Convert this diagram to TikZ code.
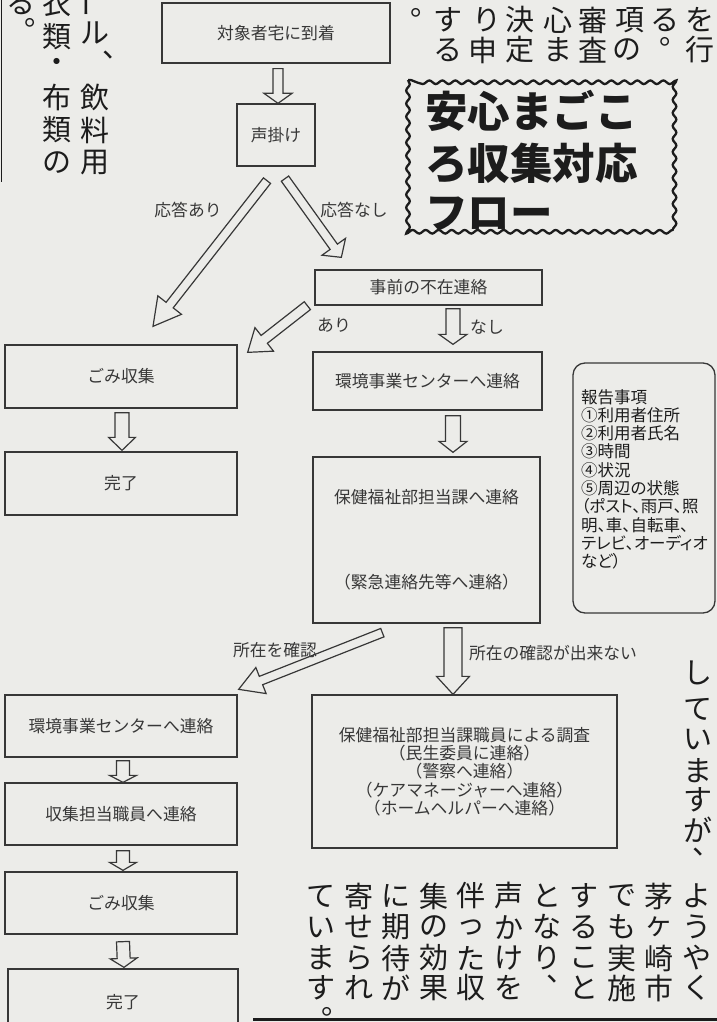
\documentclass[tikz,border=0pt]{standalone}
\usepackage{fontspec}
\newfontfamily\jp{Noto Sans CJK JP}
\newfontfamily\jpp{Noto Sans CJK JP}[RawFeature=+palt]
\usetikzlibrary{calc,decorations.pathmorphing}

\definecolor{ink}{RGB}{55,55,55}
\definecolor{inkdark}{RGB}{28,28,28}
\definecolor{paper}{RGB}{236,236,233}

\tikzstyle{box}    = [draw=ink, line width=1.3pt, inner sep=0pt, text=ink, align=center, font=\jp\fontsize{16.8}{18.3}\selectfont]
\tikzstyle{lbl}    = [inner sep=0pt, text=ink, font=\jp\fontsize{16.8}{18.3}\selectfont]
\tikzstyle{harrow} = [draw=ink, line width=1.2pt, fill=paper, line join=miter]
\tikzstyle{body}   = [inner sep=0pt, text=inkdark, font=\jp\fontsize{29}{29}\selectfont]
\tikzstyle{title}  = [inner sep=0pt, anchor=base west, text=inkdark, font=\jp\bfseries\fontsize{42.5}{51}\selectfont]
\tikzstyle{wavy}   = [draw=inkdark, line width=2.3pt, decorate, decoration={snake, segment length=13pt, amplitude=1.8pt}]

% block arrow: tail, tip, shaft half width, head half width, head length
\newcommand{\hollowarrow}[5]{%
  \draw[harrow] let \p1=#1, \p2=#2, \p3=($(\p2)-(\p1)$), \n1={atan2(\y3,\x3)}, \n2={veclen(\x3,\y3)} in
    ($(\p1)+(\n1+90:#3pt)$) -- ++(\n1:{\n2-#5pt}) -- ++(\n1+90:{#4pt-#3pt}) -- (\p2)
    -- ($(\p2)+(\n1+180:#5pt)+(\n1-90:#4pt)$) -- ++(\n1+90:{#4pt-#3pt}) -- ($(\p1)+(\n1-90:#3pt)$) -- cycle;}

\begin{document}
\begin{tikzpicture}[x=1pt,y=-1pt]
  \useasboundingbox (0,0) rectangle (717,1022);
  \fill[paper] (0,0) rectangle (717,1022);
  \clip (0,0) rectangle (717,1022);

  % newspaper text round the chart
  \draw[inkdark, line width=1.2pt] (1.5,0) -- (1.5,182);
  \node[body] (colA1) at (21,3) {る};
  \node[body] (colA2) at (38.7,23) {。};
  \foreach \c/\y [count=\i] in {衣/3,類/37,・/65,布/97,類/130,の/163}
    \node[body] (colB\i) at (57,\y) {\c};
  \node[body, rotate=90] (colC0) at (91,3) {ー};
  \foreach \c/\y [count=\i] in {ル/33,飲/97,料/130,用/163}
    \node[body] (colC\i) at (95,\y) {\c};
  \node[body] (colC5) at (116.7,55) {、};
  \node[body] (rowA0) at (424.7,13) {。};
  \foreach \c/\x [count=\i] in {す/448,り/487,決/520,心/558,審/593,項/630,る/665,を/700}
    \node[body] (rowA\i) at (\x,20) {\c};
  \node[body] (rowB0) at (673.7,42) {。};
  \foreach \c/\x [count=\i] in {る/448,申/483,定/520,ま/558,査/593,の/627,行/700}
    \node[body] (rowB\i) at (\x,50) {\c};
  \foreach \c/\y [count=\i] in {し/673,て/709,い/739,ま/771,す/800,が/830}
    \node[body] (colR\i) at (698,\y) {\c};
  \node[body] (colR7) at (706.7,852) {、};
  \foreach \y/\row [count=\j] in {896/{て,寄,に,集,伴,声,と,す,で,茅,よ},927/{い,せ,期,の,っ,か,な,る,も,ヶ,う},958/{ま,ら,待,効,た,け,り,こ,実,崎,や}}
    \foreach \c [count=\i from 0] in \row
      \node[body] (bot\j-\i) at (321+37.6*\i,\y) {\c};
  \foreach \c/\i in {す/0,れ/1,が/2,果/3,収/4,を/5,と/7,施/8,市/9,く/10}
    \node[body] (bot4-\i) at (321+37.6*\i,988) {\c};
  \node[body] (bot4-6) at (560.7,979) {、};
  \node[body] (bot5-0) at (335.7,1012) {。};
  \draw[inkdark, line width=3pt] (253,1019.5) -- (717,1019.5);

  % title
  \draw[wavy] (408,80) rectangle (673,230);
  \node[title] (titleA) at (425,128) {安心まごこ};
  \node[title] (titleB) at (425,179) {ろ収集対応};
  \node[title] (titleC) at (425,228) {フロー};

  % flow
  \node[box, minimum width=228, minimum height=60] (arrive) at (276,33) {対象者宅に到着};
  \node[box, minimum width=78, minimum height=62] (call) at (276,135) {声掛け};
  \node[box, minimum width=227, minimum height=35] (notice) at (428.5,287.5) {事前の不在連絡};
  \node[box, minimum width=229, minimum height=58] (envCenter) at (427.5,381) {環境事業センターへ連絡};
  \node[box, minimum width=227, minimum height=166] (welfare) at (426.5,540) {保健福祉部担当課へ連絡\\[66.7pt]（緊急連絡先等へ連絡）};
  \node[box, minimum width=305, minimum height=153] (survey) at (464.5,771.5) {保健福祉部担当課職員による調査\\（民生委員に連絡）\\（警察へ連絡）\\（ケアマネージャーへ連絡）\\（ホームヘルパーへ連絡）};
  \node[box, minimum width=232, minimum height=63] (collectA) at (121,376.5) {ごみ収集};
  \node[box, minimum width=232, minimum height=63] (doneA) at (121,483.5) {完了};
  \foreach \name/\y/\txt in {centerB/726/環境事業センターへ連絡,staff/814/収集担当職員へ連絡,collectB/903/ごみ収集}
    \node[box, minimum width=232, minimum height=62] (\name) at (121,\y) {\txt};
  \node[box, minimum width=230, minimum height=66] (doneB) at (123,1002) {完了};
  \node[draw=ink, line width=1.3pt, rounded corners=12pt, minimum width=142, minimum height=250] (report) at (644,488) {};
  \node[inner sep=0pt, anchor=north west, align=left, text=inkdark, font=\jpp\fontsize{16.5}{18.3}\selectfont] (reportText) at (581,389)
    {報告事項\\①利用者住所\\②利用者氏名\\③時間\\④状況\\⑤周辺の状態\\（ポスト、雨戸、照\\明、車、自転車、\\テレビ、オーディオ\\など）};

  \hollowarrow{($(arrive.south)+(2,5)$)}{($(call.north)+(2,0)$)}{5}{14}{10}
  \hollowarrow{($(call.south)+(-9,14)$)}{($(collectA.north)+(32,-18)$)}{4.5}{15}{27}
  \hollowarrow{($(call.south)+(9,12)$)}{($(notice.north west)+(27,-12)$)}{4.5}{14.5}{13}
  \hollowarrow{($(notice.south west)+(-7,0)$)}{($(collectA.north east)+(10,8)$)}{5}{15}{21}
  \hollowarrow{($(notice.south)+(24.5,3)$)}{($(envCenter.north)+(25.5,-7)$)}{7}{14}{10}
  \hollowarrow{($(envCenter.south)+(25.5,5)$)}{($(welfare.north)+(26.5,-4)$)}{7.5}{14}{11}
  \hollowarrow{($(welfare.south)+(26.5,4)$)}{($(survey.north)+(-11.5,0)$)}{9}{16.5}{18}
  \hollowarrow{($(welfare.south west)+(70,9)$)}{($(centerB.north east)+(1,-5)$)}{4.5}{14}{24}
  \hollowarrow{($(collectA.south)+(1,4)$)}{($(doneA.north)+(1,-1)$)}{7}{13.5}{13}
  \hollowarrow{($(centerB.south)+(2,3)$)}{($(staff.north)+(2,0)$)}{6.5}{13.5}{7}
  \hollowarrow{($(staff.south)+(2,5)$)}{($(collectB.north)+(2,-1)$)}{6.5}{13.5}{8}
  \hollowarrow{($(collectB.south)+(2,7)$)}{($(doneB.north)+(1,-1)$)}{6.5}{13.5}{9}

  \node[lbl] (yesLbl) at (188,210) {応答あり};
  \node[lbl] (noLbl) at (354,210) {応答なし};
  \node[lbl] (hasLbl) at (334,325) {あり};
  \node[lbl] (noneLbl) at (487,327) {なし};
  \node[lbl] (foundLbl) at (275,650) {所在を確認};
  \node[lbl] (lostLbl) at (553,653) {所在の確認が出来ない};
\end{tikzpicture}
\end{document}
